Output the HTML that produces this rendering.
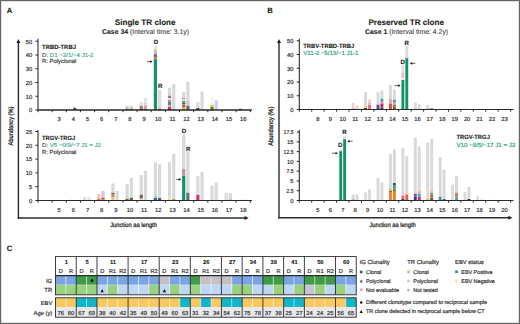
<!DOCTYPE html>
<html><head><meta charset="utf-8"><style>
html,body{margin:0;padding:0;background:#fff;width:520px;height:324px;overflow:hidden}
svg{display:block}
text{font-family:"Liberation Sans", sans-serif;text-rendering:geometricPrecision}
</style></head><body>
<svg width="520" height="324" viewBox="0 0 520 324">
<rect x="0.00" y="0.00" width="520.00" height="324.00" fill="#fff"/>
<text x="6.8" y="13.2" font-size="7.7" font-weight="bold" text-anchor="start" fill="#231f20" stroke="#231f20" stroke-width="0.12">A</text>
<text x="145.2" y="24.9" font-size="8.1" font-weight="bold" text-anchor="middle" fill="#231f20" stroke="#231f20" stroke-width="0.12">Single TR clone</text>
<text x="102" y="33.9" font-size="6.9" fill="#231f20"><tspan font-weight="bold" stroke="#231f20" stroke-width="0.1">Case 34</tspan><tspan fill="#444" stroke="#444" stroke-width="0.1"> (Interval time: 3.1y)</tspan></text>
<line x1="18.4" y1="41.5" x2="18.4" y2="218.7" stroke="#2b2b2b" stroke-width="1.4"/>
<path d="M16.4,42.9 L18.4,38.9 L20.4,42.9 Z" fill="#231f20"/>
<line x1="17.7" y1="218.0" x2="245.5" y2="218.0" stroke="#2b2b2b" stroke-width="1.6"/>
<path d="M244.6,215.9 L248.7,217.95 L244.6,220.0 Z" fill="#231f20"/>
<text x="133.55" y="227.1" font-size="6.4" text-anchor="middle" fill="#231f20" stroke="#231f20" stroke-width="0.25" textLength="46.7" lengthAdjust="spacingAndGlyphs">Junction aa length</text>
<text transform="translate(13.1,126) rotate(-90)" font-size="6.6" text-anchor="middle" fill="#231f20" stroke="#231f20" stroke-width="0.25" textLength="39" lengthAdjust="spacingAndGlyphs">Abundancy (%)</text>
<line x1="38" y1="38.8" x2="38" y2="110.5" stroke="#2b2b2b" stroke-width="1.1"/>
<line x1="35.4" y1="110.0" x2="38" y2="110.0" stroke="#2b2b2b" stroke-width="1"/>
<text x="32.2" y="112.3" font-size="5.8" text-anchor="end" fill="#333" stroke="#333" stroke-width="0.2">0</text>
<line x1="35.4" y1="96.25" x2="38" y2="96.25" stroke="#2b2b2b" stroke-width="1"/>
<text x="32.2" y="98.55" font-size="5.8" text-anchor="end" fill="#333" stroke="#333" stroke-width="0.2">10</text>
<line x1="35.4" y1="82.5" x2="38" y2="82.5" stroke="#2b2b2b" stroke-width="1"/>
<text x="32.2" y="84.8" font-size="5.8" text-anchor="end" fill="#333" stroke="#333" stroke-width="0.2">20</text>
<line x1="35.4" y1="68.75" x2="38" y2="68.75" stroke="#2b2b2b" stroke-width="1"/>
<text x="32.2" y="71.05" font-size="5.8" text-anchor="end" fill="#333" stroke="#333" stroke-width="0.2">30</text>
<line x1="35.4" y1="55.0" x2="38" y2="55.0" stroke="#2b2b2b" stroke-width="1"/>
<text x="32.2" y="57.3" font-size="5.8" text-anchor="end" fill="#333" stroke="#333" stroke-width="0.2">40</text>
<line x1="35.4" y1="41.25" x2="38" y2="41.25" stroke="#2b2b2b" stroke-width="1"/>
<text x="32.2" y="43.55" font-size="5.8" text-anchor="end" fill="#333" stroke="#333" stroke-width="0.2">50</text>
<rect x="73.10" y="107.60" width="3.20" height="2.40" fill="#3d6a48"/>
<rect x="73.10" y="106.10" width="3.20" height="1.50" fill="#e4f0e4"/>
<rect x="97.20" y="109.20" width="3.20" height="0.80" fill="#d0d0d0"/>
<rect x="101.40" y="109.20" width="3.20" height="0.80" fill="#e0e0e0"/>
<rect x="111.35" y="109.20" width="3.20" height="0.80" fill="#e0e0e0"/>
<rect x="125.50" y="108.50" width="3.20" height="1.50" fill="#8a6a6a"/>
<rect x="125.50" y="105.90" width="3.20" height="2.60" fill="#dcc4c4"/>
<rect x="129.70" y="108.50" width="3.20" height="1.50" fill="#555"/>
<rect x="129.70" y="105.70" width="3.20" height="2.80" fill="#d4d4d4"/>
<rect x="139.65" y="109.00" width="3.20" height="1.00" fill="#5a3a3a"/>
<rect x="139.65" y="106.00" width="3.20" height="3.00" fill="#9a8070"/>
<rect x="139.65" y="102.20" width="3.20" height="3.80" fill="#dcdcdc"/>
<rect x="143.85" y="108.50" width="3.20" height="1.50" fill="#2a6a4a"/>
<rect x="143.85" y="106.00" width="3.20" height="2.50" fill="#e0a0a8"/>
<rect x="143.85" y="103.00" width="3.20" height="3.00" fill="#f0c8c8"/>
<rect x="143.85" y="101.00" width="3.20" height="2.00" fill="#e8e8e8"/>
<rect x="143.85" y="97.90" width="3.20" height="3.10" fill="#d8e8e0"/>
<rect x="153.80" y="59.10" width="3.20" height="50.90" fill="#14936a"/>
<rect x="153.80" y="58.30" width="3.20" height="0.80" fill="#3fbf8a"/>
<rect x="153.80" y="56.00" width="3.20" height="2.30" fill="#e8583a"/>
<rect x="153.80" y="54.20" width="3.20" height="1.80" fill="#4a6a7a"/>
<rect x="153.80" y="51.70" width="3.20" height="2.50" fill="#a8b8e0"/>
<rect x="153.80" y="49.90" width="3.20" height="1.80" fill="#f0a0b8"/>
<rect x="153.80" y="47.70" width="3.20" height="2.20" fill="#f4e0a0"/>
<rect x="153.80" y="46.20" width="3.20" height="1.50" fill="#d8d8d8"/>
<rect x="158.00" y="108.50" width="3.20" height="1.50" fill="#8a7060"/>
<rect x="158.00" y="105.50" width="3.20" height="3.00" fill="#e8c8c8"/>
<rect x="158.00" y="89.80" width="3.20" height="15.70" fill="#dcdcdc"/>
<rect x="167.95" y="109.00" width="3.20" height="1.00" fill="#702040"/>
<rect x="167.95" y="107.00" width="3.20" height="2.00" fill="#e0307a"/>
<rect x="167.95" y="105.00" width="3.20" height="2.00" fill="#f0a0b8"/>
<rect x="167.95" y="102.00" width="3.20" height="3.00" fill="#3a9a80"/>
<rect x="167.95" y="100.00" width="3.20" height="2.00" fill="#d88090"/>
<rect x="167.95" y="98.00" width="3.20" height="2.00" fill="#e0e0e0"/>
<rect x="167.95" y="96.00" width="3.20" height="2.00" fill="#b07090"/>
<rect x="167.95" y="94.00" width="3.20" height="2.00" fill="#e8c0c8"/>
<rect x="167.95" y="87.70" width="3.20" height="6.30" fill="#d9d9d9"/>
<rect x="172.15" y="84.10" width="3.20" height="25.90" fill="#d9d9d9"/>
<rect x="182.10" y="107.00" width="3.20" height="3.00" fill="#f0a830"/>
<rect x="182.10" y="105.00" width="3.20" height="2.00" fill="#a06040"/>
<rect x="182.10" y="104.50" width="3.20" height="0.50" fill="#e0e0e0"/>
<rect x="182.10" y="103.00" width="3.20" height="1.50" fill="#555"/>
<rect x="182.10" y="101.00" width="3.20" height="2.00" fill="#4caf50"/>
<rect x="182.10" y="99.00" width="3.20" height="2.00" fill="#e0e0e0"/>
<rect x="182.10" y="98.00" width="3.20" height="1.00" fill="#f08090"/>
<rect x="182.10" y="92.20" width="3.20" height="5.80" fill="#d9d9d9"/>
<rect x="186.30" y="106.00" width="3.20" height="4.00" fill="#666"/>
<rect x="186.30" y="101.00" width="3.20" height="5.00" fill="#c8c0e0"/>
<rect x="186.30" y="81.70" width="3.20" height="19.30" fill="#d9d9d9"/>
<rect x="196.25" y="108.00" width="3.20" height="2.00" fill="#555"/>
<rect x="196.25" y="102.40" width="3.20" height="5.60" fill="#d9d9d9"/>
<rect x="200.45" y="91.60" width="3.20" height="18.40" fill="#d9d9d9"/>
<rect x="210.40" y="106.50" width="3.20" height="3.50" fill="#8a6a20"/>
<rect x="210.40" y="104.50" width="3.20" height="2.00" fill="#f0c040"/>
<rect x="210.40" y="96.40" width="3.20" height="8.10" fill="#fbf6e6"/>
<rect x="214.60" y="100.40" width="3.20" height="9.60" fill="#c4d2f0"/>
<rect x="238.70" y="108.80" width="3.20" height="1.20" fill="#444"/>
<line x1="38" y1="110" x2="251.8" y2="110" stroke="#2b2b2b" stroke-width="1.1"/>
<line x1="38.0" y1="110" x2="38.0" y2="112.2" stroke="#2b2b2b" stroke-width="1"/>
<line x1="52.15" y1="110" x2="52.15" y2="112.2" stroke="#2b2b2b" stroke-width="1"/>
<line x1="66.3" y1="110" x2="66.3" y2="112.2" stroke="#2b2b2b" stroke-width="1"/>
<line x1="80.45" y1="110" x2="80.45" y2="112.2" stroke="#2b2b2b" stroke-width="1"/>
<line x1="94.6" y1="110" x2="94.6" y2="112.2" stroke="#2b2b2b" stroke-width="1"/>
<line x1="108.75" y1="110" x2="108.75" y2="112.2" stroke="#2b2b2b" stroke-width="1"/>
<line x1="122.9" y1="110" x2="122.9" y2="112.2" stroke="#2b2b2b" stroke-width="1"/>
<line x1="137.05" y1="110" x2="137.05" y2="112.2" stroke="#2b2b2b" stroke-width="1"/>
<line x1="151.2" y1="110" x2="151.2" y2="112.2" stroke="#2b2b2b" stroke-width="1"/>
<line x1="165.35000000000002" y1="110" x2="165.35000000000002" y2="112.2" stroke="#2b2b2b" stroke-width="1"/>
<line x1="179.5" y1="110" x2="179.5" y2="112.2" stroke="#2b2b2b" stroke-width="1"/>
<line x1="193.65" y1="110" x2="193.65" y2="112.2" stroke="#2b2b2b" stroke-width="1"/>
<line x1="207.8" y1="110" x2="207.8" y2="112.2" stroke="#2b2b2b" stroke-width="1"/>
<line x1="221.95000000000002" y1="110" x2="221.95000000000002" y2="112.2" stroke="#2b2b2b" stroke-width="1"/>
<line x1="236.1" y1="110" x2="236.1" y2="112.2" stroke="#2b2b2b" stroke-width="1"/>
<line x1="250.25" y1="110" x2="250.25" y2="112.2" stroke="#2b2b2b" stroke-width="1"/>
<text x="59.225" y="121.4" font-size="5.8" text-anchor="middle" fill="#333" stroke="#333" stroke-width="0.2">3</text>
<text x="73.375" y="121.4" font-size="5.8" text-anchor="middle" fill="#333" stroke="#333" stroke-width="0.2">4</text>
<text x="87.525" y="121.4" font-size="5.8" text-anchor="middle" fill="#333" stroke="#333" stroke-width="0.2">5</text>
<text x="101.67500000000001" y="121.4" font-size="5.8" text-anchor="middle" fill="#333" stroke="#333" stroke-width="0.2">6</text>
<text x="115.825" y="121.4" font-size="5.8" text-anchor="middle" fill="#333" stroke="#333" stroke-width="0.2">7</text>
<text x="129.97500000000002" y="121.4" font-size="5.8" text-anchor="middle" fill="#333" stroke="#333" stroke-width="0.2">8</text>
<text x="144.125" y="121.4" font-size="5.8" text-anchor="middle" fill="#333" stroke="#333" stroke-width="0.2">9</text>
<text x="158.275" y="121.4" font-size="5.8" text-anchor="middle" fill="#333" stroke="#333" stroke-width="0.2">10</text>
<text x="172.425" y="121.4" font-size="5.8" text-anchor="middle" fill="#333" stroke="#333" stroke-width="0.2">11</text>
<text x="186.57500000000002" y="121.4" font-size="5.8" text-anchor="middle" fill="#333" stroke="#333" stroke-width="0.2">12</text>
<text x="200.725" y="121.4" font-size="5.8" text-anchor="middle" fill="#333" stroke="#333" stroke-width="0.2">13</text>
<text x="214.875" y="121.4" font-size="5.8" text-anchor="middle" fill="#333" stroke="#333" stroke-width="0.2">14</text>
<text x="229.025" y="121.4" font-size="5.8" text-anchor="middle" fill="#333" stroke="#333" stroke-width="0.2">15</text>
<text x="243.175" y="121.4" font-size="5.8" text-anchor="middle" fill="#333" stroke="#333" stroke-width="0.2">16</text>
<line x1="38" y1="110" x2="251.8" y2="110" stroke="#2b2b2b" stroke-width="1.1"/>
<text x="42" y="48.9" font-size="6.1" font-weight="bold" text-anchor="start" fill="#231f20" stroke="#231f20" stroke-width="0.12" textLength="34" lengthAdjust="spacingAndGlyphs">TRBD-TRBJ</text>
<text x="42" y="56.7" font-size="5.9" fill="#444" stroke="#444" stroke-width="0.12" textLength="51.5" lengthAdjust="spacingAndGlyphs"><tspan>D: </tspan><tspan fill="#2ca58a" stroke="#2ca58a">D1 −3/1/−4 J1-2</tspan></text>
<text x="42" y="63.2" font-size="5.9" text-anchor="start" fill="#444" stroke="#444" stroke-width="0.2">R: Polyclonal</text>
<text x="156.1" y="44.4" font-size="6.2" font-weight="bold" text-anchor="middle" fill="#231f20" stroke="#231f20" stroke-width="0.12">D</text>
<text x="160.3" y="87.8" font-size="6.2" font-weight="bold" text-anchor="middle" fill="#231f20" stroke="#231f20" stroke-width="0.12">R</text>
<line x1="146.8" y1="61.6" x2="151.1" y2="61.6" stroke="#231f20" stroke-width="0.7"/>
<path d="M150.20,60.30 L152.60,61.60 L150.20,62.90 Z" fill="#231f20"/>
<line x1="38" y1="130" x2="38" y2="201.0" stroke="#2b2b2b" stroke-width="1.1"/>
<line x1="35.4" y1="200.5" x2="38" y2="200.5" stroke="#2b2b2b" stroke-width="1"/>
<text x="32.2" y="202.8" font-size="5.8" text-anchor="end" fill="#333" stroke="#333" stroke-width="0.2">0</text>
<line x1="35.4" y1="186.7" x2="38" y2="186.7" stroke="#2b2b2b" stroke-width="1"/>
<text x="32.2" y="189.0" font-size="5.8" text-anchor="end" fill="#333" stroke="#333" stroke-width="0.2">5</text>
<line x1="35.4" y1="172.9" x2="38" y2="172.9" stroke="#2b2b2b" stroke-width="1"/>
<text x="32.2" y="175.20000000000002" font-size="5.8" text-anchor="end" fill="#333" stroke="#333" stroke-width="0.2">10</text>
<line x1="35.4" y1="159.1" x2="38" y2="159.1" stroke="#2b2b2b" stroke-width="1"/>
<text x="32.2" y="161.4" font-size="5.8" text-anchor="end" fill="#333" stroke="#333" stroke-width="0.2">15</text>
<line x1="35.4" y1="145.3" x2="38" y2="145.3" stroke="#2b2b2b" stroke-width="1"/>
<text x="32.2" y="147.60000000000002" font-size="5.8" text-anchor="end" fill="#333" stroke="#333" stroke-width="0.2">20</text>
<line x1="35.4" y1="131.5" x2="38" y2="131.5" stroke="#2b2b2b" stroke-width="1"/>
<text x="32.2" y="133.8" font-size="5.8" text-anchor="end" fill="#333" stroke="#333" stroke-width="0.2">25</text>
<rect x="54.75" y="199.80" width="3.20" height="0.70" fill="#ccc"/>
<rect x="68.90" y="199.80" width="3.20" height="0.70" fill="#ccc"/>
<rect x="73.10" y="199.80" width="3.20" height="0.70" fill="#ddd"/>
<rect x="83.05" y="197.00" width="3.20" height="3.50" fill="#dedede"/>
<rect x="87.25" y="197.00" width="3.20" height="3.50" fill="#e4e4e4"/>
<rect x="97.20" y="198.50" width="3.20" height="2.00" fill="#e07030"/>
<rect x="97.20" y="193.80" width="3.20" height="4.70" fill="#f0c8c0"/>
<rect x="101.40" y="199.00" width="3.20" height="1.50" fill="#e08040"/>
<rect x="101.40" y="197.50" width="3.20" height="1.50" fill="#a06050"/>
<rect x="101.40" y="194.00" width="3.20" height="3.50" fill="#f0c0c0"/>
<rect x="101.40" y="191.00" width="3.20" height="3.00" fill="#b8d0f0"/>
<rect x="111.35" y="197.50" width="3.20" height="3.00" fill="#f0d050"/>
<rect x="111.35" y="194.50" width="3.20" height="3.00" fill="#d08080"/>
<rect x="111.35" y="192.50" width="3.20" height="2.00" fill="#707040"/>
<rect x="111.35" y="183.40" width="3.20" height="9.10" fill="#d9d9d9"/>
<rect x="115.55" y="191.00" width="3.20" height="9.50" fill="#d9d9d9"/>
<rect x="125.50" y="198.50" width="3.20" height="2.00" fill="#706050"/>
<rect x="125.50" y="183.80" width="3.20" height="14.70" fill="#d9d9d9"/>
<rect x="129.70" y="197.50" width="3.20" height="3.00" fill="#6a6040"/>
<rect x="129.70" y="177.90" width="3.20" height="19.60" fill="#d9d9d9"/>
<rect x="139.65" y="198.50" width="3.20" height="2.00" fill="#d8d8d8"/>
<rect x="139.65" y="194.50" width="3.20" height="4.00" fill="#7a6040"/>
<rect x="139.65" y="175.00" width="3.20" height="19.50" fill="#d9d9d9"/>
<rect x="143.85" y="170.90" width="3.20" height="29.60" fill="#d9d9d9"/>
<rect x="153.80" y="197.50" width="3.20" height="3.00" fill="#3a6a7a"/>
<rect x="153.80" y="193.50" width="3.20" height="4.00" fill="#a8d8e0"/>
<rect x="153.80" y="162.50" width="3.20" height="31.00" fill="#d9d9d9"/>
<rect x="158.00" y="198.00" width="3.20" height="2.50" fill="#4a5a7a"/>
<rect x="158.00" y="164.25" width="3.20" height="33.75" fill="#d9d9d9"/>
<rect x="167.95" y="197.50" width="3.20" height="3.00" fill="#f0e080"/>
<rect x="167.95" y="162.00" width="3.20" height="35.50" fill="#d9d9d9"/>
<rect x="172.15" y="198.50" width="3.20" height="2.00" fill="#a0a060"/>
<rect x="172.15" y="153.75" width="3.20" height="44.75" fill="#d9d9d9"/>
<rect x="182.10" y="175.60" width="3.20" height="24.90" fill="#14936a"/>
<rect x="182.10" y="168.80" width="3.20" height="6.80" fill="#c890a0"/>
<rect x="182.10" y="134.30" width="3.20" height="34.50" fill="#d9d9d9"/>
<rect x="186.30" y="192.50" width="3.20" height="8.00" fill="#607080"/>
<rect x="186.30" y="151.25" width="3.20" height="41.25" fill="#d9d9d9"/>
<rect x="196.25" y="194.50" width="3.20" height="6.00" fill="#e0306a"/>
<rect x="196.25" y="193.00" width="3.20" height="1.50" fill="#c0f0f0"/>
<rect x="196.25" y="176.10" width="3.20" height="16.90" fill="#d9d9d9"/>
<rect x="200.45" y="172.00" width="3.20" height="28.50" fill="#d9d9d9"/>
<rect x="210.40" y="185.50" width="3.20" height="15.00" fill="#d9d9d9"/>
<rect x="214.60" y="182.50" width="3.20" height="18.00" fill="#d9d9d9"/>
<rect x="224.55" y="192.70" width="3.20" height="7.80" fill="#d9d9d9"/>
<rect x="228.75" y="199.50" width="3.20" height="1.00" fill="#3a6a3a"/>
<rect x="228.75" y="193.00" width="3.20" height="6.50" fill="#d9d9d9"/>
<rect x="238.70" y="199.70" width="3.20" height="0.80" fill="#ddd"/>
<rect x="242.90" y="199.70" width="3.20" height="0.80" fill="#ddd"/>
<line x1="38" y1="200.5" x2="251.8" y2="200.5" stroke="#2b2b2b" stroke-width="1.1"/>
<line x1="38.0" y1="200.5" x2="38.0" y2="202.7" stroke="#2b2b2b" stroke-width="1"/>
<line x1="52.15" y1="200.5" x2="52.15" y2="202.7" stroke="#2b2b2b" stroke-width="1"/>
<line x1="66.3" y1="200.5" x2="66.3" y2="202.7" stroke="#2b2b2b" stroke-width="1"/>
<line x1="80.45" y1="200.5" x2="80.45" y2="202.7" stroke="#2b2b2b" stroke-width="1"/>
<line x1="94.6" y1="200.5" x2="94.6" y2="202.7" stroke="#2b2b2b" stroke-width="1"/>
<line x1="108.75" y1="200.5" x2="108.75" y2="202.7" stroke="#2b2b2b" stroke-width="1"/>
<line x1="122.9" y1="200.5" x2="122.9" y2="202.7" stroke="#2b2b2b" stroke-width="1"/>
<line x1="137.05" y1="200.5" x2="137.05" y2="202.7" stroke="#2b2b2b" stroke-width="1"/>
<line x1="151.2" y1="200.5" x2="151.2" y2="202.7" stroke="#2b2b2b" stroke-width="1"/>
<line x1="165.35000000000002" y1="200.5" x2="165.35000000000002" y2="202.7" stroke="#2b2b2b" stroke-width="1"/>
<line x1="179.5" y1="200.5" x2="179.5" y2="202.7" stroke="#2b2b2b" stroke-width="1"/>
<line x1="193.65" y1="200.5" x2="193.65" y2="202.7" stroke="#2b2b2b" stroke-width="1"/>
<line x1="207.8" y1="200.5" x2="207.8" y2="202.7" stroke="#2b2b2b" stroke-width="1"/>
<line x1="221.95000000000002" y1="200.5" x2="221.95000000000002" y2="202.7" stroke="#2b2b2b" stroke-width="1"/>
<line x1="236.1" y1="200.5" x2="236.1" y2="202.7" stroke="#2b2b2b" stroke-width="1"/>
<line x1="250.25" y1="200.5" x2="250.25" y2="202.7" stroke="#2b2b2b" stroke-width="1"/>
<text x="59.225" y="211.6" font-size="5.8" text-anchor="middle" fill="#333" stroke="#333" stroke-width="0.2">5</text>
<text x="73.375" y="211.6" font-size="5.8" text-anchor="middle" fill="#333" stroke="#333" stroke-width="0.2">6</text>
<text x="87.525" y="211.6" font-size="5.8" text-anchor="middle" fill="#333" stroke="#333" stroke-width="0.2">7</text>
<text x="101.67500000000001" y="211.6" font-size="5.8" text-anchor="middle" fill="#333" stroke="#333" stroke-width="0.2">8</text>
<text x="115.825" y="211.6" font-size="5.8" text-anchor="middle" fill="#333" stroke="#333" stroke-width="0.2">9</text>
<text x="129.97500000000002" y="211.6" font-size="5.8" text-anchor="middle" fill="#333" stroke="#333" stroke-width="0.2">10</text>
<text x="144.125" y="211.6" font-size="5.8" text-anchor="middle" fill="#333" stroke="#333" stroke-width="0.2">11</text>
<text x="158.275" y="211.6" font-size="5.8" text-anchor="middle" fill="#333" stroke="#333" stroke-width="0.2">12</text>
<text x="172.425" y="211.6" font-size="5.8" text-anchor="middle" fill="#333" stroke="#333" stroke-width="0.2">13</text>
<text x="186.57500000000002" y="211.6" font-size="5.8" text-anchor="middle" fill="#333" stroke="#333" stroke-width="0.2">14</text>
<text x="200.725" y="211.6" font-size="5.8" text-anchor="middle" fill="#333" stroke="#333" stroke-width="0.2">15</text>
<text x="214.875" y="211.6" font-size="5.8" text-anchor="middle" fill="#333" stroke="#333" stroke-width="0.2">16</text>
<text x="229.025" y="211.6" font-size="5.8" text-anchor="middle" fill="#333" stroke="#333" stroke-width="0.2">17</text>
<text x="243.175" y="211.6" font-size="5.8" text-anchor="middle" fill="#333" stroke="#333" stroke-width="0.2">18</text>
<line x1="38" y1="200.5" x2="251.8" y2="200.5" stroke="#2b2b2b" stroke-width="1.1"/>
<text x="42" y="139.8" font-size="6.1" font-weight="bold" text-anchor="start" fill="#231f20" stroke="#231f20" stroke-width="0.12" textLength="33.2" lengthAdjust="spacingAndGlyphs">TRGV-TRGJ</text>
<text x="42" y="146.8" font-size="5.9" fill="#444" stroke="#444" stroke-width="0.12" textLength="59" lengthAdjust="spacingAndGlyphs"><tspan>D: </tspan><tspan fill="#2ca58a" stroke="#2ca58a">V5 −0/9/−7 J1 = J2</tspan></text>
<text x="42" y="153.8" font-size="5.9" text-anchor="start" fill="#444" stroke="#444" stroke-width="0.2">R: Polyclonal</text>
<text x="184.0" y="132.5" font-size="6.2" font-weight="bold" text-anchor="middle" fill="#231f20" stroke="#231f20" stroke-width="0.12">D</text>
<text x="188.2" y="150.5" font-size="6.2" font-weight="bold" text-anchor="middle" fill="#231f20" stroke="#231f20" stroke-width="0.12">R</text>
<line x1="176.3" y1="179.4" x2="179.7" y2="179.4" stroke="#231f20" stroke-width="0.7"/>
<path d="M178.80,178.10 L181.20,179.40 L178.80,180.70 Z" fill="#231f20"/>
<text x="267.2" y="13.2" font-size="7.7" font-weight="bold" text-anchor="start" fill="#231f20" stroke="#231f20" stroke-width="0.12">B</text>
<text x="406.2" y="24.9" font-size="8.1" font-weight="bold" text-anchor="middle" fill="#231f20" stroke="#231f20" stroke-width="0.12">Preserved TR clone</text>
<text x="365" y="33.9" font-size="6.9" fill="#231f20"><tspan font-weight="bold" stroke="#231f20" stroke-width="0.1">Case 1</tspan><tspan fill="#444" stroke="#444" stroke-width="0.1"> (Interval time: 4.2y)</tspan></text>
<line x1="279.0" y1="41.5" x2="279.0" y2="218.4" stroke="#2b2b2b" stroke-width="1.4"/>
<path d="M277.0,42.9 L279.0,38.9 L281.0,42.9 Z" fill="#231f20"/>
<line x1="278.3" y1="217.7" x2="509.5" y2="217.7" stroke="#2b2b2b" stroke-width="1.6"/>
<path d="M508.4,215.65 L512.5,217.7 L508.4,219.75 Z" fill="#231f20"/>
<text x="392.6" y="227.3" font-size="6.4" text-anchor="middle" fill="#231f20" stroke="#231f20" stroke-width="0.25" textLength="46.2" lengthAdjust="spacingAndGlyphs">Junction aa length</text>
<text transform="translate(273.4,126.2) rotate(-90)" font-size="6.6" text-anchor="middle" fill="#231f20" stroke="#231f20" stroke-width="0.25" textLength="39" lengthAdjust="spacingAndGlyphs">Abundancy (%)</text>
<line x1="299.3" y1="38.8" x2="299.3" y2="110.0" stroke="#2b2b2b" stroke-width="1.1"/>
<line x1="296.7" y1="109.5" x2="299.3" y2="109.5" stroke="#2b2b2b" stroke-width="1"/>
<text x="293.5" y="111.8" font-size="5.8" text-anchor="end" fill="#333" stroke="#333" stroke-width="0.2">0</text>
<line x1="296.7" y1="95.75" x2="299.3" y2="95.75" stroke="#2b2b2b" stroke-width="1"/>
<text x="293.5" y="98.05" font-size="5.8" text-anchor="end" fill="#333" stroke="#333" stroke-width="0.2">10</text>
<line x1="296.7" y1="82.0" x2="299.3" y2="82.0" stroke="#2b2b2b" stroke-width="1"/>
<text x="293.5" y="84.3" font-size="5.8" text-anchor="end" fill="#333" stroke="#333" stroke-width="0.2">20</text>
<line x1="296.7" y1="68.25" x2="299.3" y2="68.25" stroke="#2b2b2b" stroke-width="1"/>
<text x="293.5" y="70.55" font-size="5.8" text-anchor="end" fill="#333" stroke="#333" stroke-width="0.2">30</text>
<line x1="296.7" y1="54.5" x2="299.3" y2="54.5" stroke="#2b2b2b" stroke-width="1"/>
<text x="293.5" y="56.8" font-size="5.8" text-anchor="end" fill="#333" stroke="#333" stroke-width="0.2">40</text>
<line x1="296.7" y1="40.75" x2="299.3" y2="40.75" stroke="#2b2b2b" stroke-width="1"/>
<text x="293.5" y="43.05" font-size="5.8" text-anchor="end" fill="#333" stroke="#333" stroke-width="0.2">50</text>
<rect x="351.72" y="108.50" width="2.90" height="1.00" fill="#8a3a3a"/>
<rect x="351.72" y="103.00" width="2.90" height="5.50" fill="#f0d0d8"/>
<rect x="355.62" y="105.50" width="2.90" height="4.00" fill="#d9d9d9"/>
<rect x="364.15" y="108.00" width="2.90" height="1.50" fill="#5a3030"/>
<rect x="364.15" y="106.00" width="2.90" height="2.00" fill="#e8d060"/>
<rect x="364.15" y="92.00" width="2.90" height="14.00" fill="#d9d9d9"/>
<rect x="368.05" y="104.50" width="2.90" height="5.00" fill="#e87080"/>
<rect x="368.05" y="102.50" width="2.90" height="2.00" fill="#f0b0c0"/>
<rect x="368.05" y="99.50" width="2.90" height="3.00" fill="#d9d9d9"/>
<rect x="376.58" y="104.50" width="2.90" height="5.00" fill="#4a5080"/>
<rect x="376.58" y="91.80" width="2.90" height="12.70" fill="#d9d9d9"/>
<rect x="380.48" y="107.50" width="2.90" height="2.00" fill="#3a3a6a"/>
<rect x="380.48" y="103.50" width="2.90" height="4.00" fill="#c02070"/>
<rect x="380.48" y="101.50" width="2.90" height="2.00" fill="#e08090"/>
<rect x="380.48" y="98.50" width="2.90" height="3.00" fill="#3aa0a0"/>
<rect x="380.48" y="90.30" width="2.90" height="8.20" fill="#d9d9d9"/>
<rect x="389.01" y="103.50" width="2.90" height="6.00" fill="#e05030"/>
<rect x="389.01" y="98.50" width="2.90" height="5.00" fill="#f0a0a0"/>
<rect x="389.01" y="85.00" width="2.90" height="13.50" fill="#d9d9d9"/>
<rect x="392.91" y="106.50" width="2.90" height="3.00" fill="#6a6a30"/>
<rect x="392.91" y="104.50" width="2.90" height="2.00" fill="#d04040"/>
<rect x="392.91" y="102.50" width="2.90" height="2.00" fill="#e0a0b0"/>
<rect x="392.91" y="99.50" width="2.90" height="3.00" fill="#40a0a0"/>
<rect x="392.91" y="89.50" width="2.90" height="10.00" fill="#d9d9d9"/>
<rect x="401.44" y="80.00" width="2.90" height="29.50" fill="#14936a"/>
<rect x="401.44" y="77.70" width="2.90" height="2.30" fill="#ece4e4"/>
<rect x="401.44" y="73.00" width="2.90" height="4.70" fill="#f0b8c0"/>
<rect x="401.44" y="64.60" width="2.90" height="8.40" fill="#e0e0e0"/>
<rect x="405.34" y="58.50" width="2.90" height="51.00" fill="#14936a"/>
<rect x="405.34" y="57.50" width="2.90" height="1.00" fill="#5a7a6a"/>
<rect x="405.34" y="46.20" width="2.90" height="11.30" fill="#dcdcdc"/>
<rect x="413.87" y="102.50" width="2.90" height="7.00" fill="#d9d9d9"/>
<rect x="417.77" y="104.30" width="2.90" height="5.20" fill="#d9d9d9"/>
<rect x="426.30" y="108.50" width="2.90" height="1.00" fill="#8a8a50"/>
<rect x="426.30" y="104.90" width="2.90" height="3.60" fill="#d9d9d9"/>
<rect x="430.20" y="108.50" width="2.90" height="1.00" fill="#333"/>
<rect x="438.73" y="108.90" width="2.90" height="0.60" fill="#ccc"/>
<rect x="463.59" y="108.70" width="2.90" height="0.80" fill="#f0c080"/>
<line x1="299.3" y1="109.5" x2="513.3" y2="109.5" stroke="#2b2b2b" stroke-width="1.1"/>
<line x1="299.3" y1="109.5" x2="299.3" y2="111.7" stroke="#2b2b2b" stroke-width="1"/>
<line x1="311.73" y1="109.5" x2="311.73" y2="111.7" stroke="#2b2b2b" stroke-width="1"/>
<line x1="324.16" y1="109.5" x2="324.16" y2="111.7" stroke="#2b2b2b" stroke-width="1"/>
<line x1="336.59000000000003" y1="109.5" x2="336.59000000000003" y2="111.7" stroke="#2b2b2b" stroke-width="1"/>
<line x1="349.02" y1="109.5" x2="349.02" y2="111.7" stroke="#2b2b2b" stroke-width="1"/>
<line x1="361.45" y1="109.5" x2="361.45" y2="111.7" stroke="#2b2b2b" stroke-width="1"/>
<line x1="373.88" y1="109.5" x2="373.88" y2="111.7" stroke="#2b2b2b" stroke-width="1"/>
<line x1="386.31" y1="109.5" x2="386.31" y2="111.7" stroke="#2b2b2b" stroke-width="1"/>
<line x1="398.74" y1="109.5" x2="398.74" y2="111.7" stroke="#2b2b2b" stroke-width="1"/>
<line x1="411.17" y1="109.5" x2="411.17" y2="111.7" stroke="#2b2b2b" stroke-width="1"/>
<line x1="423.6" y1="109.5" x2="423.6" y2="111.7" stroke="#2b2b2b" stroke-width="1"/>
<line x1="436.03" y1="109.5" x2="436.03" y2="111.7" stroke="#2b2b2b" stroke-width="1"/>
<line x1="448.46000000000004" y1="109.5" x2="448.46000000000004" y2="111.7" stroke="#2b2b2b" stroke-width="1"/>
<line x1="460.89" y1="109.5" x2="460.89" y2="111.7" stroke="#2b2b2b" stroke-width="1"/>
<line x1="473.32" y1="109.5" x2="473.32" y2="111.7" stroke="#2b2b2b" stroke-width="1"/>
<line x1="485.75" y1="109.5" x2="485.75" y2="111.7" stroke="#2b2b2b" stroke-width="1"/>
<line x1="498.18" y1="109.5" x2="498.18" y2="111.7" stroke="#2b2b2b" stroke-width="1"/>
<line x1="510.61" y1="109.5" x2="510.61" y2="111.7" stroke="#2b2b2b" stroke-width="1"/>
<text x="317.945" y="120.9" font-size="5.8" text-anchor="middle" fill="#333" stroke="#333" stroke-width="0.2">8</text>
<text x="330.375" y="120.9" font-size="5.8" text-anchor="middle" fill="#333" stroke="#333" stroke-width="0.2">9</text>
<text x="342.805" y="120.9" font-size="5.8" text-anchor="middle" fill="#333" stroke="#333" stroke-width="0.2">10</text>
<text x="355.235" y="120.9" font-size="5.8" text-anchor="middle" fill="#333" stroke="#333" stroke-width="0.2">11</text>
<text x="367.665" y="120.9" font-size="5.8" text-anchor="middle" fill="#333" stroke="#333" stroke-width="0.2">12</text>
<text x="380.095" y="120.9" font-size="5.8" text-anchor="middle" fill="#333" stroke="#333" stroke-width="0.2">13</text>
<text x="392.525" y="120.9" font-size="5.8" text-anchor="middle" fill="#333" stroke="#333" stroke-width="0.2">14</text>
<text x="404.95500000000004" y="120.9" font-size="5.8" text-anchor="middle" fill="#333" stroke="#333" stroke-width="0.2">15</text>
<text x="417.385" y="120.9" font-size="5.8" text-anchor="middle" fill="#333" stroke="#333" stroke-width="0.2">16</text>
<text x="429.815" y="120.9" font-size="5.8" text-anchor="middle" fill="#333" stroke="#333" stroke-width="0.2">17</text>
<text x="442.245" y="120.9" font-size="5.8" text-anchor="middle" fill="#333" stroke="#333" stroke-width="0.2">18</text>
<text x="454.675" y="120.9" font-size="5.8" text-anchor="middle" fill="#333" stroke="#333" stroke-width="0.2">19</text>
<text x="467.105" y="120.9" font-size="5.8" text-anchor="middle" fill="#333" stroke="#333" stroke-width="0.2">20</text>
<text x="479.53499999999997" y="120.9" font-size="5.8" text-anchor="middle" fill="#333" stroke="#333" stroke-width="0.2">21</text>
<text x="491.96500000000003" y="120.9" font-size="5.8" text-anchor="middle" fill="#333" stroke="#333" stroke-width="0.2">22</text>
<text x="504.395" y="120.9" font-size="5.8" text-anchor="middle" fill="#333" stroke="#333" stroke-width="0.2">23</text>
<line x1="299.3" y1="109.5" x2="513.3" y2="109.5" stroke="#2b2b2b" stroke-width="1.1"/>
<text x="303.3" y="48.3" font-size="6.1" font-weight="bold" text-anchor="start" fill="#231f20" stroke="#231f20" stroke-width="0.12" textLength="51" lengthAdjust="spacingAndGlyphs">TRBV-TRBD-TRBJ</text>
<text x="303.3" y="55.2" font-size="5.9" text-anchor="start" fill="#2ca58a" stroke="#2ca58a" stroke-width="0.2" textLength="55" lengthAdjust="spacingAndGlyphs">V11-2 −5/13/−1 J1-1</text>
<text x="406.8" y="44.9" font-size="6.2" font-weight="bold" text-anchor="middle" fill="#231f20" stroke="#231f20" stroke-width="0.12">R</text>
<text x="402.7" y="64.1" font-size="6.2" font-weight="bold" text-anchor="middle" fill="#231f20" stroke="#231f20" stroke-width="0.12">D</text>
<line x1="411.3" y1="63.4" x2="415.3" y2="63.4" stroke="#231f20" stroke-width="0.7"/>
<path d="M412.20,62.10 L409.80,63.40 L412.20,64.70 Z" fill="#231f20"/>
<line x1="394.3" y1="85.6" x2="399.1" y2="85.6" stroke="#231f20" stroke-width="0.7"/>
<path d="M398.20,84.30 L400.60,85.60 L398.20,86.90 Z" fill="#231f20"/>
<line x1="299.3" y1="130" x2="299.3" y2="201.0" stroke="#2b2b2b" stroke-width="1.1"/>
<line x1="296.7" y1="200.5" x2="299.3" y2="200.5" stroke="#2b2b2b" stroke-width="1"/>
<text x="293.5" y="202.8" font-size="5.8" text-anchor="end" fill="#333" stroke="#333" stroke-width="0.2">0</text>
<line x1="296.7" y1="190.725" x2="299.3" y2="190.725" stroke="#2b2b2b" stroke-width="1"/>
<text x="293.5" y="193.025" font-size="5.8" text-anchor="end" fill="#333" stroke="#333" stroke-width="0.2" textLength="7.09" lengthAdjust="spacingAndGlyphs">2.5</text>
<line x1="296.7" y1="180.95" x2="299.3" y2="180.95" stroke="#2b2b2b" stroke-width="1"/>
<text x="293.5" y="183.25" font-size="5.8" text-anchor="end" fill="#333" stroke="#333" stroke-width="0.2">5</text>
<line x1="296.7" y1="171.175" x2="299.3" y2="171.175" stroke="#2b2b2b" stroke-width="1"/>
<text x="293.5" y="173.47500000000002" font-size="5.8" text-anchor="end" fill="#333" stroke="#333" stroke-width="0.2" textLength="7.09" lengthAdjust="spacingAndGlyphs">7.5</text>
<line x1="296.7" y1="161.4" x2="299.3" y2="161.4" stroke="#2b2b2b" stroke-width="1"/>
<text x="293.5" y="163.70000000000002" font-size="5.8" text-anchor="end" fill="#333" stroke="#333" stroke-width="0.2">10</text>
<line x1="296.7" y1="151.625" x2="299.3" y2="151.625" stroke="#2b2b2b" stroke-width="1"/>
<text x="293.5" y="153.925" font-size="5.8" text-anchor="end" fill="#333" stroke="#333" stroke-width="0.2" textLength="9.93" lengthAdjust="spacingAndGlyphs">12.5</text>
<line x1="296.7" y1="141.85" x2="299.3" y2="141.85" stroke="#2b2b2b" stroke-width="1"/>
<text x="293.5" y="144.15" font-size="5.8" text-anchor="end" fill="#333" stroke="#333" stroke-width="0.2">15</text>
<line x1="296.7" y1="132.075" x2="299.3" y2="132.075" stroke="#2b2b2b" stroke-width="1"/>
<text x="293.5" y="134.375" font-size="5.8" text-anchor="end" fill="#333" stroke="#333" stroke-width="0.2" textLength="9.93" lengthAdjust="spacingAndGlyphs">17.5</text>
<rect x="326.86" y="199.70" width="2.90" height="0.80" fill="#f0e0a0"/>
<rect x="339.29" y="151.10" width="2.90" height="49.40" fill="#14936a"/>
<rect x="339.29" y="149.30" width="2.90" height="1.80" fill="#e8d8d0"/>
<rect x="343.19" y="139.10" width="2.90" height="61.40" fill="#14936a"/>
<rect x="343.19" y="136.30" width="2.90" height="2.80" fill="#e8d8d0"/>
<rect x="351.72" y="199.50" width="2.90" height="1.00" fill="#444"/>
<rect x="351.72" y="194.50" width="2.90" height="5.00" fill="#d9d9d9"/>
<rect x="355.62" y="194.50" width="2.90" height="6.00" fill="#d9d9d9"/>
<rect x="364.15" y="192.50" width="2.90" height="8.00" fill="#d9d9d9"/>
<rect x="368.05" y="199.50" width="2.90" height="1.00" fill="#e0c060"/>
<rect x="368.05" y="189.50" width="2.90" height="10.00" fill="#d9d9d9"/>
<rect x="376.58" y="178.00" width="2.90" height="22.50" fill="#d9d9d9"/>
<rect x="380.48" y="199.50" width="2.90" height="1.00" fill="#e0c060"/>
<rect x="380.48" y="182.50" width="2.90" height="17.00" fill="#d9d9d9"/>
<rect x="389.01" y="191.80" width="2.90" height="8.70" fill="#f08030"/>
<rect x="389.01" y="190.80" width="2.90" height="1.00" fill="#7a4a2a"/>
<rect x="389.01" y="188.80" width="2.90" height="2.00" fill="#f0a080"/>
<rect x="389.01" y="154.20" width="2.90" height="34.60" fill="#d9d9d9"/>
<rect x="392.91" y="191.00" width="2.90" height="9.50" fill="#f07a20"/>
<rect x="392.91" y="190.00" width="2.90" height="1.00" fill="#c04030"/>
<rect x="392.91" y="187.00" width="2.90" height="3.00" fill="#50b050"/>
<rect x="392.91" y="185.00" width="2.90" height="2.00" fill="#30a090"/>
<rect x="392.91" y="183.00" width="2.90" height="2.00" fill="#6a3a6a"/>
<rect x="392.91" y="149.50" width="2.90" height="33.50" fill="#d9d9d9"/>
<rect x="401.44" y="198.50" width="2.90" height="2.00" fill="#503040"/>
<rect x="401.44" y="195.50" width="2.90" height="3.00" fill="#d07080"/>
<rect x="401.44" y="193.50" width="2.90" height="2.00" fill="#f0c0c0"/>
<rect x="401.44" y="147.90" width="2.90" height="45.60" fill="#d9d9d9"/>
<rect x="405.34" y="194.50" width="2.90" height="6.00" fill="#e06040"/>
<rect x="405.34" y="192.50" width="2.90" height="2.00" fill="#f0c0a0"/>
<rect x="405.34" y="156.20" width="2.90" height="36.30" fill="#d9d9d9"/>
<rect x="413.87" y="196.50" width="2.90" height="4.00" fill="#3a3a7a"/>
<rect x="413.87" y="193.50" width="2.90" height="3.00" fill="#7a4aa0"/>
<rect x="413.87" y="137.50" width="2.90" height="56.00" fill="#d9d9d9"/>
<rect x="417.77" y="196.50" width="2.90" height="4.00" fill="#e0207a"/>
<rect x="417.77" y="193.50" width="2.90" height="3.00" fill="#30b0b0"/>
<rect x="417.77" y="191.50" width="2.90" height="2.00" fill="#f0a0b0"/>
<rect x="417.77" y="190.50" width="2.90" height="1.00" fill="#f0a040"/>
<rect x="417.77" y="146.50" width="2.90" height="44.00" fill="#d9d9d9"/>
<rect x="426.30" y="198.50" width="2.90" height="2.00" fill="#f0b040"/>
<rect x="426.30" y="190.50" width="2.90" height="8.00" fill="#f0d0c8"/>
<rect x="426.30" y="142.50" width="2.90" height="48.00" fill="#d9d9d9"/>
<rect x="430.20" y="197.50" width="2.90" height="3.00" fill="#6a5a30"/>
<rect x="430.20" y="194.50" width="2.90" height="3.00" fill="#c06050"/>
<rect x="430.20" y="192.50" width="2.90" height="2.00" fill="#3aa0a0"/>
<rect x="430.20" y="188.50" width="2.90" height="4.00" fill="#f0c0b0"/>
<rect x="430.20" y="138.90" width="2.90" height="49.60" fill="#d9d9d9"/>
<rect x="438.73" y="196.50" width="2.90" height="4.00" fill="#30a0b0"/>
<rect x="438.73" y="157.00" width="2.90" height="39.50" fill="#d9d9d9"/>
<rect x="442.63" y="199.00" width="2.90" height="1.50" fill="#2a6a7a"/>
<rect x="442.63" y="169.50" width="2.90" height="29.50" fill="#d9d9d9"/>
<rect x="451.16" y="184.70" width="2.90" height="15.80" fill="#e8d8d8"/>
<rect x="455.06" y="197.50" width="2.90" height="3.00" fill="#40a0a0"/>
<rect x="455.06" y="192.50" width="2.90" height="5.00" fill="#c08060"/>
<rect x="455.06" y="175.80" width="2.90" height="16.70" fill="#d9d9d9"/>
<rect x="463.59" y="192.20" width="2.90" height="8.30" fill="#d9d9d9"/>
<rect x="467.49" y="199.00" width="2.90" height="1.50" fill="#3a2a2a"/>
<rect x="467.49" y="186.70" width="2.90" height="12.30" fill="#d9d9d9"/>
<rect x="476.02" y="196.00" width="2.90" height="4.50" fill="#e0e0e0"/>
<rect x="479.92" y="199.50" width="2.90" height="1.00" fill="#ddd"/>
<rect x="488.45" y="199.70" width="2.90" height="0.80" fill="#ddd"/>
<line x1="299.3" y1="200.5" x2="513.3" y2="200.5" stroke="#2b2b2b" stroke-width="1.1"/>
<line x1="299.3" y1="200.5" x2="299.3" y2="202.7" stroke="#2b2b2b" stroke-width="1"/>
<line x1="311.73" y1="200.5" x2="311.73" y2="202.7" stroke="#2b2b2b" stroke-width="1"/>
<line x1="324.16" y1="200.5" x2="324.16" y2="202.7" stroke="#2b2b2b" stroke-width="1"/>
<line x1="336.59000000000003" y1="200.5" x2="336.59000000000003" y2="202.7" stroke="#2b2b2b" stroke-width="1"/>
<line x1="349.02" y1="200.5" x2="349.02" y2="202.7" stroke="#2b2b2b" stroke-width="1"/>
<line x1="361.45" y1="200.5" x2="361.45" y2="202.7" stroke="#2b2b2b" stroke-width="1"/>
<line x1="373.88" y1="200.5" x2="373.88" y2="202.7" stroke="#2b2b2b" stroke-width="1"/>
<line x1="386.31" y1="200.5" x2="386.31" y2="202.7" stroke="#2b2b2b" stroke-width="1"/>
<line x1="398.74" y1="200.5" x2="398.74" y2="202.7" stroke="#2b2b2b" stroke-width="1"/>
<line x1="411.17" y1="200.5" x2="411.17" y2="202.7" stroke="#2b2b2b" stroke-width="1"/>
<line x1="423.6" y1="200.5" x2="423.6" y2="202.7" stroke="#2b2b2b" stroke-width="1"/>
<line x1="436.03" y1="200.5" x2="436.03" y2="202.7" stroke="#2b2b2b" stroke-width="1"/>
<line x1="448.46000000000004" y1="200.5" x2="448.46000000000004" y2="202.7" stroke="#2b2b2b" stroke-width="1"/>
<line x1="460.89" y1="200.5" x2="460.89" y2="202.7" stroke="#2b2b2b" stroke-width="1"/>
<line x1="473.32" y1="200.5" x2="473.32" y2="202.7" stroke="#2b2b2b" stroke-width="1"/>
<line x1="485.75" y1="200.5" x2="485.75" y2="202.7" stroke="#2b2b2b" stroke-width="1"/>
<line x1="498.18" y1="200.5" x2="498.18" y2="202.7" stroke="#2b2b2b" stroke-width="1"/>
<line x1="510.61" y1="200.5" x2="510.61" y2="202.7" stroke="#2b2b2b" stroke-width="1"/>
<text x="317.945" y="211.7" font-size="5.8" text-anchor="middle" fill="#333" stroke="#333" stroke-width="0.2">5</text>
<text x="330.375" y="211.7" font-size="5.8" text-anchor="middle" fill="#333" stroke="#333" stroke-width="0.2">6</text>
<text x="342.805" y="211.7" font-size="5.8" text-anchor="middle" fill="#333" stroke="#333" stroke-width="0.2">7</text>
<text x="355.235" y="211.7" font-size="5.8" text-anchor="middle" fill="#333" stroke="#333" stroke-width="0.2">8</text>
<text x="367.665" y="211.7" font-size="5.8" text-anchor="middle" fill="#333" stroke="#333" stroke-width="0.2">9</text>
<text x="380.095" y="211.7" font-size="5.8" text-anchor="middle" fill="#333" stroke="#333" stroke-width="0.2">10</text>
<text x="392.525" y="211.7" font-size="5.8" text-anchor="middle" fill="#333" stroke="#333" stroke-width="0.2">11</text>
<text x="404.95500000000004" y="211.7" font-size="5.8" text-anchor="middle" fill="#333" stroke="#333" stroke-width="0.2">12</text>
<text x="417.385" y="211.7" font-size="5.8" text-anchor="middle" fill="#333" stroke="#333" stroke-width="0.2">13</text>
<text x="429.815" y="211.7" font-size="5.8" text-anchor="middle" fill="#333" stroke="#333" stroke-width="0.2">14</text>
<text x="442.245" y="211.7" font-size="5.8" text-anchor="middle" fill="#333" stroke="#333" stroke-width="0.2">15</text>
<text x="454.675" y="211.7" font-size="5.8" text-anchor="middle" fill="#333" stroke="#333" stroke-width="0.2">16</text>
<text x="467.105" y="211.7" font-size="5.8" text-anchor="middle" fill="#333" stroke="#333" stroke-width="0.2">17</text>
<text x="479.53499999999997" y="211.7" font-size="5.8" text-anchor="middle" fill="#333" stroke="#333" stroke-width="0.2">18</text>
<text x="491.96500000000003" y="211.7" font-size="5.8" text-anchor="middle" fill="#333" stroke="#333" stroke-width="0.2">19</text>
<text x="504.395" y="211.7" font-size="5.8" text-anchor="middle" fill="#333" stroke="#333" stroke-width="0.2">20</text>
<line x1="299.3" y1="200.5" x2="513.3" y2="200.5" stroke="#2b2b2b" stroke-width="1.1"/>
<text x="456.4" y="138.8" font-size="6.1" font-weight="bold" text-anchor="start" fill="#231f20" stroke="#231f20" stroke-width="0.12" textLength="33.5" lengthAdjust="spacingAndGlyphs">TRGV-TRGJ</text>
<text x="456.4" y="146.5" font-size="5.9" text-anchor="start" fill="#2ca58a" stroke="#2ca58a" stroke-width="0.2" textLength="59" lengthAdjust="spacingAndGlyphs">V10 −8/5/−17 J1 = J2</text>
<text x="344.4" y="134.3" font-size="6.2" font-weight="bold" text-anchor="middle" fill="#231f20" stroke="#231f20" stroke-width="0.12">R</text>
<text x="340.2" y="147.1" font-size="6.2" font-weight="bold" text-anchor="middle" fill="#231f20" stroke="#231f20" stroke-width="0.12">D</text>
<line x1="348.6" y1="141.2" x2="352.7" y2="141.2" stroke="#231f20" stroke-width="0.7"/>
<path d="M349.50,139.90 L347.10,141.20 L349.50,142.50 Z" fill="#231f20"/>
<line x1="331.9" y1="153.2" x2="336.5" y2="153.2" stroke="#231f20" stroke-width="0.7"/>
<path d="M335.60,151.90 L338.00,153.20 L335.60,154.50 Z" fill="#231f20"/>
<text x="6.8" y="251.3" font-size="7.7" font-weight="bold" text-anchor="start" fill="#231f20" stroke="#231f20" stroke-width="0.12">C</text>
<rect x="55.50" y="275.60" width="10.37" height="9.30" fill="#7ba4e2"/>
<rect x="55.50" y="284.90" width="10.37" height="9.90" fill="#98d27f"/>
<rect x="55.50" y="297.80" width="10.37" height="9.40" fill="#f9c961"/>
<rect x="55.50" y="307.20" width="10.37" height="10.00" fill="#e8e8ec"/>
<rect x="65.87" y="275.60" width="10.37" height="9.30" fill="#7ba4e2"/>
<rect x="65.87" y="284.90" width="10.37" height="9.90" fill="#98d27f"/>
<rect x="65.87" y="297.80" width="10.37" height="9.40" fill="#f9c961"/>
<rect x="65.87" y="307.20" width="10.37" height="10.00" fill="#e8e8ec"/>
<line x1="65.87" y1="275.6" x2="65.87" y2="294.8" stroke="rgba(255,255,255,0.75)" stroke-width="0.7"/>
<line x1="65.87" y1="297.8" x2="65.87" y2="307.2" stroke="rgba(255,255,255,0.6)" stroke-width="0.7"/>
<line x1="55.5" y1="284.9" x2="76.24" y2="284.9" stroke="rgba(255,255,255,0.45)" stroke-width="0.6"/>
<text x="66.27000000000001" y="264.1" font-size="5.7" font-weight="bold" text-anchor="middle" fill="#231f20" stroke="#231f20" stroke-width="0.12">1</text>
<text x="60.685" y="273.1" font-size="5.6" text-anchor="middle" fill="#333" stroke="#333" stroke-width="0.2">D</text>
<text x="60.685" y="314.6" font-size="5.8" text-anchor="middle" fill="#333" stroke="#333" stroke-width="0.2">76</text>
<text x="71.055" y="273.1" font-size="5.6" text-anchor="middle" fill="#333" stroke="#333" stroke-width="0.2">R</text>
<text x="71.055" y="314.6" font-size="5.8" text-anchor="middle" fill="#333" stroke="#333" stroke-width="0.2">80</text>
<rect x="76.24" y="275.60" width="10.37" height="9.30" fill="#3f9b48"/>
<rect x="76.24" y="284.90" width="10.37" height="9.90" fill="#98d27f"/>
<rect x="76.24" y="297.80" width="10.37" height="9.40" fill="#12b6c8"/>
<rect x="76.24" y="307.20" width="10.37" height="10.00" fill="#e8e8ec"/>
<rect x="86.61" y="275.60" width="10.37" height="9.30" fill="#3f9b48"/>
<rect x="86.61" y="284.90" width="10.37" height="9.90" fill="#98d27f"/>
<rect x="86.61" y="297.80" width="10.37" height="9.40" fill="#12b6c8"/>
<rect x="86.61" y="307.20" width="10.37" height="10.00" fill="#e8e8ec"/>
<line x1="86.61" y1="275.6" x2="86.61" y2="294.8" stroke="rgba(255,255,255,0.75)" stroke-width="0.7"/>
<line x1="86.61" y1="297.8" x2="86.61" y2="307.2" stroke="rgba(255,255,255,0.6)" stroke-width="0.7"/>
<line x1="76.24" y1="284.9" x2="96.97999999999999" y2="284.9" stroke="rgba(255,255,255,0.45)" stroke-width="0.6"/>
<text x="87.01" y="264.1" font-size="5.7" font-weight="bold" text-anchor="middle" fill="#231f20" stroke="#231f20" stroke-width="0.12">5</text>
<text x="81.425" y="273.1" font-size="5.6" text-anchor="middle" fill="#333" stroke="#333" stroke-width="0.2">D</text>
<text x="81.425" y="314.6" font-size="5.8" text-anchor="middle" fill="#333" stroke="#333" stroke-width="0.2">67</text>
<text x="91.79499999999999" y="273.1" font-size="5.6" text-anchor="middle" fill="#333" stroke="#333" stroke-width="0.2">R</text>
<text x="91.79499999999999" y="314.6" font-size="5.8" text-anchor="middle" fill="#333" stroke="#333" stroke-width="0.2">69</text>
<circle cx="92.09" cy="280.7" r="1.35" fill="#111"/>
<rect x="96.98" y="275.60" width="10.37" height="9.30" fill="#7ba4e2"/>
<rect x="96.98" y="284.90" width="10.37" height="9.90" fill="#bdd7f4"/>
<rect x="96.98" y="297.80" width="10.37" height="9.40" fill="#f9c961"/>
<rect x="96.98" y="307.20" width="10.37" height="10.00" fill="#e8e8ec"/>
<rect x="107.35" y="275.60" width="10.37" height="9.30" fill="#7ba4e2"/>
<rect x="107.35" y="284.90" width="10.37" height="9.90" fill="#98d27f"/>
<rect x="107.35" y="297.80" width="10.37" height="9.40" fill="#f9c961"/>
<rect x="107.35" y="307.20" width="10.37" height="10.00" fill="#e8e8ec"/>
<rect x="117.72" y="275.60" width="10.37" height="9.30" fill="#7ba4e2"/>
<rect x="117.72" y="284.90" width="10.37" height="9.90" fill="#bdd7f4"/>
<rect x="117.72" y="297.80" width="10.37" height="9.40" fill="#f9c961"/>
<rect x="117.72" y="307.20" width="10.37" height="10.00" fill="#e8e8ec"/>
<line x1="107.35" y1="275.6" x2="107.35" y2="294.8" stroke="rgba(255,255,255,0.75)" stroke-width="0.7"/>
<line x1="107.35" y1="297.8" x2="107.35" y2="307.2" stroke="rgba(255,255,255,0.6)" stroke-width="0.7"/>
<line x1="117.71999999999998" y1="275.6" x2="117.71999999999998" y2="294.8" stroke="rgba(255,255,255,0.75)" stroke-width="0.7"/>
<line x1="117.71999999999998" y1="297.8" x2="117.71999999999998" y2="307.2" stroke="rgba(255,255,255,0.6)" stroke-width="0.7"/>
<line x1="96.97999999999999" y1="284.9" x2="128.08999999999997" y2="284.9" stroke="rgba(255,255,255,0.45)" stroke-width="0.6"/>
<text x="112.935" y="264.1" font-size="5.7" font-weight="bold" text-anchor="middle" fill="#231f20" stroke="#231f20" stroke-width="0.12">11</text>
<text x="102.16499999999999" y="273.1" font-size="5.6" text-anchor="middle" fill="#333" stroke="#333" stroke-width="0.2">D</text>
<text x="102.16499999999999" y="314.6" font-size="5.8" text-anchor="middle" fill="#333" stroke="#333" stroke-width="0.2">38</text>
<text x="112.535" y="273.1" font-size="5.6" text-anchor="middle" fill="#333" stroke="#333" stroke-width="0.2">R1</text>
<text x="112.535" y="314.6" font-size="5.8" text-anchor="middle" fill="#333" stroke="#333" stroke-width="0.2">40</text>
<text x="122.90499999999999" y="273.1" font-size="5.6" text-anchor="middle" fill="#333" stroke="#333" stroke-width="0.2">R2</text>
<text x="122.90499999999999" y="314.6" font-size="5.8" text-anchor="middle" fill="#333" stroke="#333" stroke-width="0.2">42</text>
<path d="M100.56,292.2 L102.16,289.1 L103.76,292.2 Z" fill="#111"/>
<rect x="128.09" y="275.60" width="10.37" height="9.30" fill="#7ba4e2"/>
<rect x="128.09" y="284.90" width="10.37" height="9.90" fill="#bdd7f4"/>
<rect x="128.09" y="297.80" width="10.37" height="9.40" fill="#f9c961"/>
<rect x="128.09" y="307.20" width="10.37" height="10.00" fill="#e8e8ec"/>
<rect x="138.46" y="275.60" width="10.37" height="9.30" fill="#7ba4e2"/>
<rect x="138.46" y="284.90" width="10.37" height="9.90" fill="#bdd7f4"/>
<rect x="138.46" y="297.80" width="10.37" height="9.40" fill="#f9c961"/>
<rect x="138.46" y="307.20" width="10.37" height="10.00" fill="#e8e8ec"/>
<rect x="148.83" y="275.60" width="10.37" height="9.30" fill="#7ba4e2"/>
<rect x="148.83" y="284.90" width="10.37" height="9.90" fill="#98d27f"/>
<rect x="148.83" y="297.80" width="10.37" height="9.40" fill="#f9c961"/>
<rect x="148.83" y="307.20" width="10.37" height="10.00" fill="#e8e8ec"/>
<line x1="138.45999999999998" y1="275.6" x2="138.45999999999998" y2="294.8" stroke="rgba(255,255,255,0.75)" stroke-width="0.7"/>
<line x1="138.45999999999998" y1="297.8" x2="138.45999999999998" y2="307.2" stroke="rgba(255,255,255,0.6)" stroke-width="0.7"/>
<line x1="148.82999999999998" y1="275.6" x2="148.82999999999998" y2="294.8" stroke="rgba(255,255,255,0.75)" stroke-width="0.7"/>
<line x1="148.82999999999998" y1="297.8" x2="148.82999999999998" y2="307.2" stroke="rgba(255,255,255,0.6)" stroke-width="0.7"/>
<line x1="128.08999999999997" y1="284.9" x2="159.2" y2="284.9" stroke="rgba(255,255,255,0.45)" stroke-width="0.6"/>
<text x="144.045" y="264.1" font-size="5.7" font-weight="bold" text-anchor="middle" fill="#231f20" stroke="#231f20" stroke-width="0.12">17</text>
<text x="133.27499999999998" y="273.1" font-size="5.6" text-anchor="middle" fill="#333" stroke="#333" stroke-width="0.2">D</text>
<text x="133.27499999999998" y="314.6" font-size="5.8" text-anchor="middle" fill="#333" stroke="#333" stroke-width="0.2">35</text>
<text x="143.64499999999998" y="273.1" font-size="5.6" text-anchor="middle" fill="#333" stroke="#333" stroke-width="0.2">R1</text>
<text x="143.64499999999998" y="314.6" font-size="5.8" text-anchor="middle" fill="#333" stroke="#333" stroke-width="0.2">49</text>
<text x="154.015" y="273.1" font-size="5.6" text-anchor="middle" fill="#333" stroke="#333" stroke-width="0.2">R2</text>
<text x="154.015" y="314.6" font-size="5.8" text-anchor="middle" fill="#333" stroke="#333" stroke-width="0.2">50</text>
<rect x="159.20" y="275.60" width="10.37" height="9.30" fill="#c6bfc4"/>
<rect x="159.20" y="284.90" width="10.37" height="9.90" fill="#bdd7f4"/>
<rect x="159.20" y="297.80" width="10.37" height="9.40" fill="#f9c961"/>
<rect x="159.20" y="307.20" width="10.37" height="10.00" fill="#e8e8ec"/>
<rect x="169.57" y="275.60" width="10.37" height="9.30" fill="#7ba4e2"/>
<rect x="169.57" y="284.90" width="10.37" height="9.90" fill="#98d27f"/>
<rect x="169.57" y="297.80" width="10.37" height="9.40" fill="#f9c961"/>
<rect x="169.57" y="307.20" width="10.37" height="10.00" fill="#e8e8ec"/>
<rect x="179.94" y="275.60" width="10.37" height="9.30" fill="#7ba4e2"/>
<rect x="179.94" y="284.90" width="10.37" height="9.90" fill="#bdd7f4"/>
<rect x="179.94" y="297.80" width="10.37" height="9.40" fill="#12b6c8"/>
<rect x="179.94" y="307.20" width="10.37" height="10.00" fill="#e8e8ec"/>
<line x1="169.57" y1="275.6" x2="169.57" y2="294.8" stroke="rgba(255,255,255,0.75)" stroke-width="0.7"/>
<line x1="169.57" y1="297.8" x2="169.57" y2="307.2" stroke="rgba(255,255,255,0.6)" stroke-width="0.7"/>
<line x1="179.94" y1="275.6" x2="179.94" y2="294.8" stroke="rgba(255,255,255,0.75)" stroke-width="0.7"/>
<line x1="179.94" y1="297.8" x2="179.94" y2="307.2" stroke="rgba(255,255,255,0.6)" stroke-width="0.7"/>
<line x1="159.2" y1="284.9" x2="190.31" y2="284.9" stroke="rgba(255,255,255,0.45)" stroke-width="0.6"/>
<text x="175.155" y="264.1" font-size="5.7" font-weight="bold" text-anchor="middle" fill="#231f20" stroke="#231f20" stroke-width="0.12">23</text>
<text x="164.385" y="273.1" font-size="5.6" text-anchor="middle" fill="#333" stroke="#333" stroke-width="0.2">D</text>
<text x="164.385" y="314.6" font-size="5.8" text-anchor="middle" fill="#333" stroke="#333" stroke-width="0.2">49</text>
<text x="174.755" y="273.1" font-size="5.6" text-anchor="middle" fill="#333" stroke="#333" stroke-width="0.2">R1</text>
<text x="174.755" y="314.6" font-size="5.8" text-anchor="middle" fill="#333" stroke="#333" stroke-width="0.2">60</text>
<text x="185.125" y="273.1" font-size="5.6" text-anchor="middle" fill="#333" stroke="#333" stroke-width="0.2">R2</text>
<text x="185.125" y="314.6" font-size="5.8" text-anchor="middle" fill="#333" stroke="#333" stroke-width="0.2">63</text>
<path d="M162.78,292.2 L164.38,289.1 L165.98,292.2 Z" fill="#111"/>
<rect x="190.31" y="275.60" width="10.37" height="9.30" fill="#3f9b48"/>
<rect x="190.31" y="284.90" width="10.37" height="9.90" fill="#98d27f"/>
<rect x="190.31" y="297.80" width="10.37" height="9.40" fill="#f9c961"/>
<rect x="190.31" y="307.20" width="10.37" height="10.00" fill="#e8e8ec"/>
<rect x="200.68" y="275.60" width="10.37" height="9.30" fill="#c6bfc4"/>
<rect x="200.68" y="284.90" width="10.37" height="9.90" fill="#bdd7f4"/>
<rect x="200.68" y="297.80" width="10.37" height="9.40" fill="#12b6c8"/>
<rect x="200.68" y="307.20" width="10.37" height="10.00" fill="#e8e8ec"/>
<rect x="211.05" y="275.60" width="10.37" height="9.30" fill="#c6bfc4"/>
<rect x="211.05" y="284.90" width="10.37" height="9.90" fill="#bdd7f4"/>
<rect x="211.05" y="297.80" width="10.37" height="9.40" fill="#f9c961"/>
<rect x="211.05" y="307.20" width="10.37" height="10.00" fill="#e8e8ec"/>
<line x1="200.68" y1="275.6" x2="200.68" y2="294.8" stroke="rgba(255,255,255,0.75)" stroke-width="0.7"/>
<line x1="200.68" y1="297.8" x2="200.68" y2="307.2" stroke="rgba(255,255,255,0.6)" stroke-width="0.7"/>
<line x1="211.05" y1="275.6" x2="211.05" y2="294.8" stroke="rgba(255,255,255,0.75)" stroke-width="0.7"/>
<line x1="211.05" y1="297.8" x2="211.05" y2="307.2" stroke="rgba(255,255,255,0.6)" stroke-width="0.7"/>
<line x1="190.31" y1="284.9" x2="221.42000000000002" y2="284.9" stroke="rgba(255,255,255,0.45)" stroke-width="0.6"/>
<text x="206.26500000000001" y="264.1" font-size="5.7" font-weight="bold" text-anchor="middle" fill="#231f20" stroke="#231f20" stroke-width="0.12">26</text>
<text x="195.495" y="273.1" font-size="5.6" text-anchor="middle" fill="#333" stroke="#333" stroke-width="0.2">D</text>
<text x="195.495" y="314.6" font-size="5.8" text-anchor="middle" fill="#333" stroke="#333" stroke-width="0.2">31</text>
<text x="205.865" y="273.1" font-size="5.6" text-anchor="middle" fill="#333" stroke="#333" stroke-width="0.2">R1</text>
<text x="205.865" y="314.6" font-size="5.8" text-anchor="middle" fill="#333" stroke="#333" stroke-width="0.2">32</text>
<text x="216.235" y="273.1" font-size="5.6" text-anchor="middle" fill="#333" stroke="#333" stroke-width="0.2">R2</text>
<text x="216.235" y="314.6" font-size="5.8" text-anchor="middle" fill="#333" stroke="#333" stroke-width="0.2">34</text>
<rect x="221.42" y="275.60" width="10.37" height="9.30" fill="#c6bfc4"/>
<rect x="221.42" y="284.90" width="10.37" height="9.90" fill="#bdd7f4"/>
<rect x="221.42" y="297.80" width="10.37" height="9.40" fill="#12b6c8"/>
<rect x="221.42" y="307.20" width="10.37" height="10.00" fill="#e8e8ec"/>
<rect x="231.79" y="275.60" width="10.37" height="9.30" fill="#7ba4e2"/>
<rect x="231.79" y="284.90" width="10.37" height="9.90" fill="#98d27f"/>
<rect x="231.79" y="297.80" width="10.37" height="9.40" fill="#12b6c8"/>
<rect x="231.79" y="307.20" width="10.37" height="10.00" fill="#e8e8ec"/>
<line x1="231.79000000000002" y1="275.6" x2="231.79000000000002" y2="294.8" stroke="rgba(255,255,255,0.75)" stroke-width="0.7"/>
<line x1="231.79000000000002" y1="297.8" x2="231.79000000000002" y2="307.2" stroke="rgba(255,255,255,0.6)" stroke-width="0.7"/>
<line x1="221.42000000000002" y1="284.9" x2="242.16000000000003" y2="284.9" stroke="rgba(255,255,255,0.45)" stroke-width="0.6"/>
<text x="232.19000000000003" y="264.1" font-size="5.7" font-weight="bold" text-anchor="middle" fill="#231f20" stroke="#231f20" stroke-width="0.12">27</text>
<text x="226.60500000000002" y="273.1" font-size="5.6" text-anchor="middle" fill="#333" stroke="#333" stroke-width="0.2">D</text>
<text x="226.60500000000002" y="314.6" font-size="5.8" text-anchor="middle" fill="#333" stroke="#333" stroke-width="0.2">54</text>
<text x="236.97500000000002" y="273.1" font-size="5.6" text-anchor="middle" fill="#333" stroke="#333" stroke-width="0.2">R</text>
<text x="236.97500000000002" y="314.6" font-size="5.8" text-anchor="middle" fill="#333" stroke="#333" stroke-width="0.2">62</text>
<rect x="242.16" y="275.60" width="10.37" height="9.30" fill="#7ba4e2"/>
<rect x="242.16" y="284.90" width="10.37" height="9.90" fill="#98d27f"/>
<rect x="242.16" y="297.80" width="10.37" height="9.40" fill="#f9c961"/>
<rect x="242.16" y="307.20" width="10.37" height="10.00" fill="#e8e8ec"/>
<rect x="252.53" y="275.60" width="10.37" height="9.30" fill="#7ba4e2"/>
<rect x="252.53" y="284.90" width="10.37" height="9.90" fill="#bdd7f4"/>
<rect x="252.53" y="297.80" width="10.37" height="9.40" fill="#f9c961"/>
<rect x="252.53" y="307.20" width="10.37" height="10.00" fill="#e8e8ec"/>
<line x1="252.53000000000003" y1="275.6" x2="252.53000000000003" y2="294.8" stroke="rgba(255,255,255,0.75)" stroke-width="0.7"/>
<line x1="252.53000000000003" y1="297.8" x2="252.53000000000003" y2="307.2" stroke="rgba(255,255,255,0.6)" stroke-width="0.7"/>
<line x1="242.16000000000003" y1="284.9" x2="262.90000000000003" y2="284.9" stroke="rgba(255,255,255,0.45)" stroke-width="0.6"/>
<text x="252.93000000000004" y="264.1" font-size="5.7" font-weight="bold" text-anchor="middle" fill="#231f20" stroke="#231f20" stroke-width="0.12">34</text>
<text x="247.34500000000003" y="273.1" font-size="5.6" text-anchor="middle" fill="#333" stroke="#333" stroke-width="0.2">D</text>
<text x="247.34500000000003" y="314.6" font-size="5.8" text-anchor="middle" fill="#333" stroke="#333" stroke-width="0.2">75</text>
<text x="257.71500000000003" y="273.1" font-size="5.6" text-anchor="middle" fill="#333" stroke="#333" stroke-width="0.2">R</text>
<text x="257.71500000000003" y="314.6" font-size="5.8" text-anchor="middle" fill="#333" stroke="#333" stroke-width="0.2">78</text>
<rect x="262.90" y="275.60" width="10.37" height="9.30" fill="#3f9b48"/>
<rect x="262.90" y="284.90" width="10.37" height="9.90" fill="#bdd7f4"/>
<rect x="262.90" y="297.80" width="10.37" height="9.40" fill="#f9c961"/>
<rect x="262.90" y="307.20" width="10.37" height="10.00" fill="#e8e8ec"/>
<rect x="273.27" y="275.60" width="10.37" height="9.30" fill="#3f9b48"/>
<rect x="273.27" y="284.90" width="10.37" height="9.90" fill="#98d27f"/>
<rect x="273.27" y="297.80" width="10.37" height="9.40" fill="#f9c961"/>
<rect x="273.27" y="307.20" width="10.37" height="10.00" fill="#e8e8ec"/>
<line x1="273.27000000000004" y1="275.6" x2="273.27000000000004" y2="294.8" stroke="rgba(255,255,255,0.75)" stroke-width="0.7"/>
<line x1="273.27000000000004" y1="297.8" x2="273.27000000000004" y2="307.2" stroke="rgba(255,255,255,0.6)" stroke-width="0.7"/>
<line x1="262.90000000000003" y1="284.9" x2="283.64000000000004" y2="284.9" stroke="rgba(255,255,255,0.45)" stroke-width="0.6"/>
<text x="273.67" y="264.1" font-size="5.7" font-weight="bold" text-anchor="middle" fill="#231f20" stroke="#231f20" stroke-width="0.12">39</text>
<text x="268.08500000000004" y="273.1" font-size="5.6" text-anchor="middle" fill="#333" stroke="#333" stroke-width="0.2">D</text>
<text x="268.08500000000004" y="314.6" font-size="5.8" text-anchor="middle" fill="#333" stroke="#333" stroke-width="0.2">37</text>
<text x="278.45500000000004" y="273.1" font-size="5.6" text-anchor="middle" fill="#333" stroke="#333" stroke-width="0.2">R</text>
<text x="278.45500000000004" y="314.6" font-size="5.8" text-anchor="middle" fill="#333" stroke="#333" stroke-width="0.2">38</text>
<rect x="283.64" y="275.60" width="10.37" height="9.30" fill="#7ba4e2"/>
<rect x="283.64" y="284.90" width="10.37" height="9.90" fill="#bdd7f4"/>
<rect x="283.64" y="297.80" width="10.37" height="9.40" fill="#12b6c8"/>
<rect x="283.64" y="307.20" width="10.37" height="10.00" fill="#e8e8ec"/>
<rect x="294.01" y="275.60" width="10.37" height="9.30" fill="#7ba4e2"/>
<rect x="294.01" y="284.90" width="10.37" height="9.90" fill="#98d27f"/>
<rect x="294.01" y="297.80" width="10.37" height="9.40" fill="#12b6c8"/>
<rect x="294.01" y="307.20" width="10.37" height="10.00" fill="#e8e8ec"/>
<line x1="294.01000000000005" y1="275.6" x2="294.01000000000005" y2="294.8" stroke="rgba(255,255,255,0.75)" stroke-width="0.7"/>
<line x1="294.01000000000005" y1="297.8" x2="294.01000000000005" y2="307.2" stroke="rgba(255,255,255,0.6)" stroke-width="0.7"/>
<line x1="283.64000000000004" y1="284.9" x2="304.38000000000005" y2="284.9" stroke="rgba(255,255,255,0.45)" stroke-width="0.6"/>
<text x="294.41" y="264.1" font-size="5.7" font-weight="bold" text-anchor="middle" fill="#231f20" stroke="#231f20" stroke-width="0.12">41</text>
<text x="288.82500000000005" y="273.1" font-size="5.6" text-anchor="middle" fill="#333" stroke="#333" stroke-width="0.2">D</text>
<text x="288.82500000000005" y="314.6" font-size="5.8" text-anchor="middle" fill="#333" stroke="#333" stroke-width="0.2">25</text>
<text x="299.19500000000005" y="273.1" font-size="5.6" text-anchor="middle" fill="#333" stroke="#333" stroke-width="0.2">R</text>
<text x="299.19500000000005" y="314.6" font-size="5.8" text-anchor="middle" fill="#333" stroke="#333" stroke-width="0.2">27</text>
<rect x="304.38" y="275.60" width="10.37" height="9.30" fill="#3f9b48"/>
<rect x="304.38" y="284.90" width="10.37" height="9.90" fill="#c9c4d3"/>
<rect x="304.38" y="297.80" width="10.37" height="9.40" fill="#f9c961"/>
<rect x="304.38" y="307.20" width="10.37" height="10.00" fill="#e8e8ec"/>
<rect x="314.75" y="275.60" width="10.37" height="9.30" fill="#3f9b48"/>
<rect x="314.75" y="284.90" width="10.37" height="9.90" fill="#98d27f"/>
<rect x="314.75" y="297.80" width="10.37" height="9.40" fill="#f9c961"/>
<rect x="314.75" y="307.20" width="10.37" height="10.00" fill="#e8e8ec"/>
<rect x="325.12" y="275.60" width="10.37" height="9.30" fill="#3f9b48"/>
<rect x="325.12" y="284.90" width="10.37" height="9.90" fill="#bdd7f4"/>
<rect x="325.12" y="297.80" width="10.37" height="9.40" fill="#f9c961"/>
<rect x="325.12" y="307.20" width="10.37" height="10.00" fill="#e8e8ec"/>
<line x1="314.75000000000006" y1="275.6" x2="314.75000000000006" y2="294.8" stroke="rgba(255,255,255,0.75)" stroke-width="0.7"/>
<line x1="314.75000000000006" y1="297.8" x2="314.75000000000006" y2="307.2" stroke="rgba(255,255,255,0.6)" stroke-width="0.7"/>
<line x1="325.12000000000006" y1="275.6" x2="325.12000000000006" y2="294.8" stroke="rgba(255,255,255,0.75)" stroke-width="0.7"/>
<line x1="325.12000000000006" y1="297.8" x2="325.12000000000006" y2="307.2" stroke="rgba(255,255,255,0.6)" stroke-width="0.7"/>
<line x1="304.38000000000005" y1="284.9" x2="335.49000000000007" y2="284.9" stroke="rgba(255,255,255,0.45)" stroke-width="0.6"/>
<text x="320.33500000000004" y="264.1" font-size="5.7" font-weight="bold" text-anchor="middle" fill="#231f20" stroke="#231f20" stroke-width="0.12">50</text>
<text x="309.56500000000005" y="273.1" font-size="5.6" text-anchor="middle" fill="#333" stroke="#333" stroke-width="0.2">D</text>
<text x="309.56500000000005" y="314.6" font-size="5.8" text-anchor="middle" fill="#333" stroke="#333" stroke-width="0.2">24</text>
<text x="319.93500000000006" y="273.1" font-size="5.6" text-anchor="middle" fill="#333" stroke="#333" stroke-width="0.2">R1</text>
<text x="319.93500000000006" y="314.6" font-size="5.8" text-anchor="middle" fill="#333" stroke="#333" stroke-width="0.2">24</text>
<text x="330.30500000000006" y="273.1" font-size="5.6" text-anchor="middle" fill="#333" stroke="#333" stroke-width="0.2">R2</text>
<text x="330.30500000000006" y="314.6" font-size="5.8" text-anchor="middle" fill="#333" stroke="#333" stroke-width="0.2">25</text>
<rect x="335.49" y="275.60" width="10.37" height="9.30" fill="#7ba4e2"/>
<rect x="335.49" y="284.90" width="10.37" height="9.90" fill="#98d27f"/>
<rect x="335.49" y="297.80" width="10.37" height="9.40" fill="#f9c961"/>
<rect x="335.49" y="307.20" width="10.37" height="10.00" fill="#e8e8ec"/>
<rect x="345.86" y="275.60" width="10.37" height="9.30" fill="#7ba4e2"/>
<rect x="345.86" y="284.90" width="10.37" height="9.90" fill="#bdd7f4"/>
<rect x="345.86" y="297.80" width="10.37" height="9.40" fill="#12b6c8"/>
<rect x="345.86" y="307.20" width="10.37" height="10.00" fill="#e8e8ec"/>
<line x1="345.86000000000007" y1="275.6" x2="345.86000000000007" y2="294.8" stroke="rgba(255,255,255,0.75)" stroke-width="0.7"/>
<line x1="345.86000000000007" y1="297.8" x2="345.86000000000007" y2="307.2" stroke="rgba(255,255,255,0.6)" stroke-width="0.7"/>
<line x1="335.49000000000007" y1="284.9" x2="356.2300000000001" y2="284.9" stroke="rgba(255,255,255,0.45)" stroke-width="0.6"/>
<text x="346.26000000000005" y="264.1" font-size="5.7" font-weight="bold" text-anchor="middle" fill="#231f20" stroke="#231f20" stroke-width="0.12">60</text>
<text x="340.67500000000007" y="273.1" font-size="5.6" text-anchor="middle" fill="#333" stroke="#333" stroke-width="0.2">D</text>
<text x="340.67500000000007" y="314.6" font-size="5.8" text-anchor="middle" fill="#333" stroke="#333" stroke-width="0.2">56</text>
<text x="351.0450000000001" y="273.1" font-size="5.6" text-anchor="middle" fill="#333" stroke="#333" stroke-width="0.2">R</text>
<text x="351.0450000000001" y="314.6" font-size="5.8" text-anchor="middle" fill="#333" stroke="#333" stroke-width="0.2">65</text>
<g stroke="#2a2a2a" fill="none">
<rect x="55.5" y="256.6" width="300.73" height="38.19999999999999" stroke-width="0.9"/>
<rect x="55.5" y="297.8" width="300.73" height="19.399999999999977" stroke-width="0.9"/>
<line x1="55.5" y1="275.6" x2="356.23" y2="275.6" stroke-width="1.1"/>
<line x1="76.24" y1="256.6" x2="76.24" y2="294.8" stroke-width="0.9"/>
<line x1="76.24" y1="297.8" x2="76.24" y2="317.2" stroke-width="0.9"/>
<line x1="96.98" y1="256.6" x2="96.98" y2="294.8" stroke-width="0.9"/>
<line x1="96.98" y1="297.8" x2="96.98" y2="317.2" stroke-width="0.9"/>
<line x1="128.09" y1="256.6" x2="128.09" y2="294.8" stroke-width="0.9"/>
<line x1="128.09" y1="297.8" x2="128.09" y2="317.2" stroke-width="0.9"/>
<line x1="159.20" y1="256.6" x2="159.20" y2="294.8" stroke-width="0.9"/>
<line x1="159.20" y1="297.8" x2="159.20" y2="317.2" stroke-width="0.9"/>
<line x1="190.31" y1="256.6" x2="190.31" y2="294.8" stroke-width="0.9"/>
<line x1="190.31" y1="297.8" x2="190.31" y2="317.2" stroke-width="0.9"/>
<line x1="221.42" y1="256.6" x2="221.42" y2="294.8" stroke-width="0.9"/>
<line x1="221.42" y1="297.8" x2="221.42" y2="317.2" stroke-width="0.9"/>
<line x1="242.16" y1="256.6" x2="242.16" y2="294.8" stroke-width="0.9"/>
<line x1="242.16" y1="297.8" x2="242.16" y2="317.2" stroke-width="0.9"/>
<line x1="262.90" y1="256.6" x2="262.90" y2="294.8" stroke-width="0.9"/>
<line x1="262.90" y1="297.8" x2="262.90" y2="317.2" stroke-width="0.9"/>
<line x1="283.64" y1="256.6" x2="283.64" y2="294.8" stroke-width="0.9"/>
<line x1="283.64" y1="297.8" x2="283.64" y2="317.2" stroke-width="0.9"/>
<line x1="304.38" y1="256.6" x2="304.38" y2="294.8" stroke-width="0.9"/>
<line x1="304.38" y1="297.8" x2="304.38" y2="317.2" stroke-width="0.9"/>
<line x1="335.49" y1="256.6" x2="335.49" y2="294.8" stroke-width="0.9"/>
<line x1="335.49" y1="297.8" x2="335.49" y2="317.2" stroke-width="0.9"/>
</g>
<text x="52.2" y="282.6" font-size="5.9" text-anchor="end" fill="#333" stroke="#333" stroke-width="0.2">IG</text>
<text x="52.2" y="292.1" font-size="5.9" text-anchor="end" fill="#333" stroke="#333" stroke-width="0.2">TR</text>
<text x="52.3" y="304.9" font-size="5.8" text-anchor="end" fill="#333" stroke="#333" stroke-width="0.2">EBV</text>
<text x="52.3" y="314.9" font-size="5.8" text-anchor="end" fill="#333" stroke="#333" stroke-width="0.2">Age (y)</text>
<text x="359.7" y="264.4" font-size="5.8" text-anchor="start" fill="#333" stroke="#333" stroke-width="0.2">IG Clonality</text>
<rect x="359.90" y="270.70" width="2.60" height="2.60" fill="#2f6a3e"/>
<text x="366.0" y="273.9" font-size="5.4" text-anchor="start" fill="#333" stroke="#333" stroke-width="0.2">Clonal</text>
<rect x="359.90" y="280.20" width="2.60" height="2.60" fill="#6e80b0"/>
<text x="366.0" y="283.4" font-size="5.4" text-anchor="start" fill="#333" stroke="#333" stroke-width="0.2">Polyclonal</text>
<rect x="359.90" y="288.50" width="2.60" height="2.60" fill="#cdb0bf"/>
<text x="366.0" y="291.7" font-size="5.4" text-anchor="start" fill="#333" stroke="#333" stroke-width="0.2">Not evaluable</text>
<text x="407.3" y="264.4" font-size="5.8" text-anchor="start" fill="#333" stroke="#333" stroke-width="0.2">TR Clonality</text>
<rect x="407.20" y="270.50" width="2.60" height="2.60" fill="#9ed08a"/>
<text x="413.3" y="273.7" font-size="5.4" text-anchor="start" fill="#333" stroke="#333" stroke-width="0.2">Clonal</text>
<rect x="407.20" y="279.70" width="2.60" height="2.60" fill="#bcd0f0"/>
<text x="413.3" y="282.9" font-size="5.4" text-anchor="start" fill="#333" stroke="#333" stroke-width="0.2">Polyclonal</text>
<rect x="407.20" y="288.80" width="2.60" height="2.60" fill="#bdbdbd"/>
<text x="413.3" y="292.0" font-size="5.4" text-anchor="start" fill="#333" stroke="#333" stroke-width="0.2">Not tested</text>
<text x="455.1" y="264.4" font-size="5.8" text-anchor="start" fill="#333" stroke="#333" stroke-width="0.2">EBV status</text>
<rect x="455.20" y="270.50" width="2.60" height="2.60" fill="#138aa0"/>
<text x="461.3" y="273.7" font-size="5.4" text-anchor="start" fill="#333" stroke="#333" stroke-width="0.2">EBV Positive</text>
<rect x="455.20" y="279.70" width="2.60" height="2.60" fill="#f3d9a8"/>
<text x="461.3" y="282.9" font-size="5.4" text-anchor="start" fill="#333" stroke="#333" stroke-width="0.2">EBV Negative</text>
<circle cx="361.2" cy="302.5" r="1.2" fill="#111"/>
<text x="366" y="304.2" font-size="5.6" text-anchor="start" fill="#333" stroke="#333" stroke-width="0.2" textLength="121" lengthAdjust="spacingAndGlyphs">Different clonotype compared to reciprocal sample</text>
<path d="M359.6,313.1 L361.2,310.1 L362.8,313.1 Z" fill="#111"/>
<text x="366" y="313.4" font-size="5.6" text-anchor="start" fill="#333" stroke="#333" stroke-width="0.2" textLength="118.6" lengthAdjust="spacingAndGlyphs">TR clone detected in reciprocal sample below CT</text>
<rect x="0.6" y="0.6" width="518.8" height="322.8" fill="none" stroke="#666" stroke-width="1.2"/>
</svg>
</body></html>
